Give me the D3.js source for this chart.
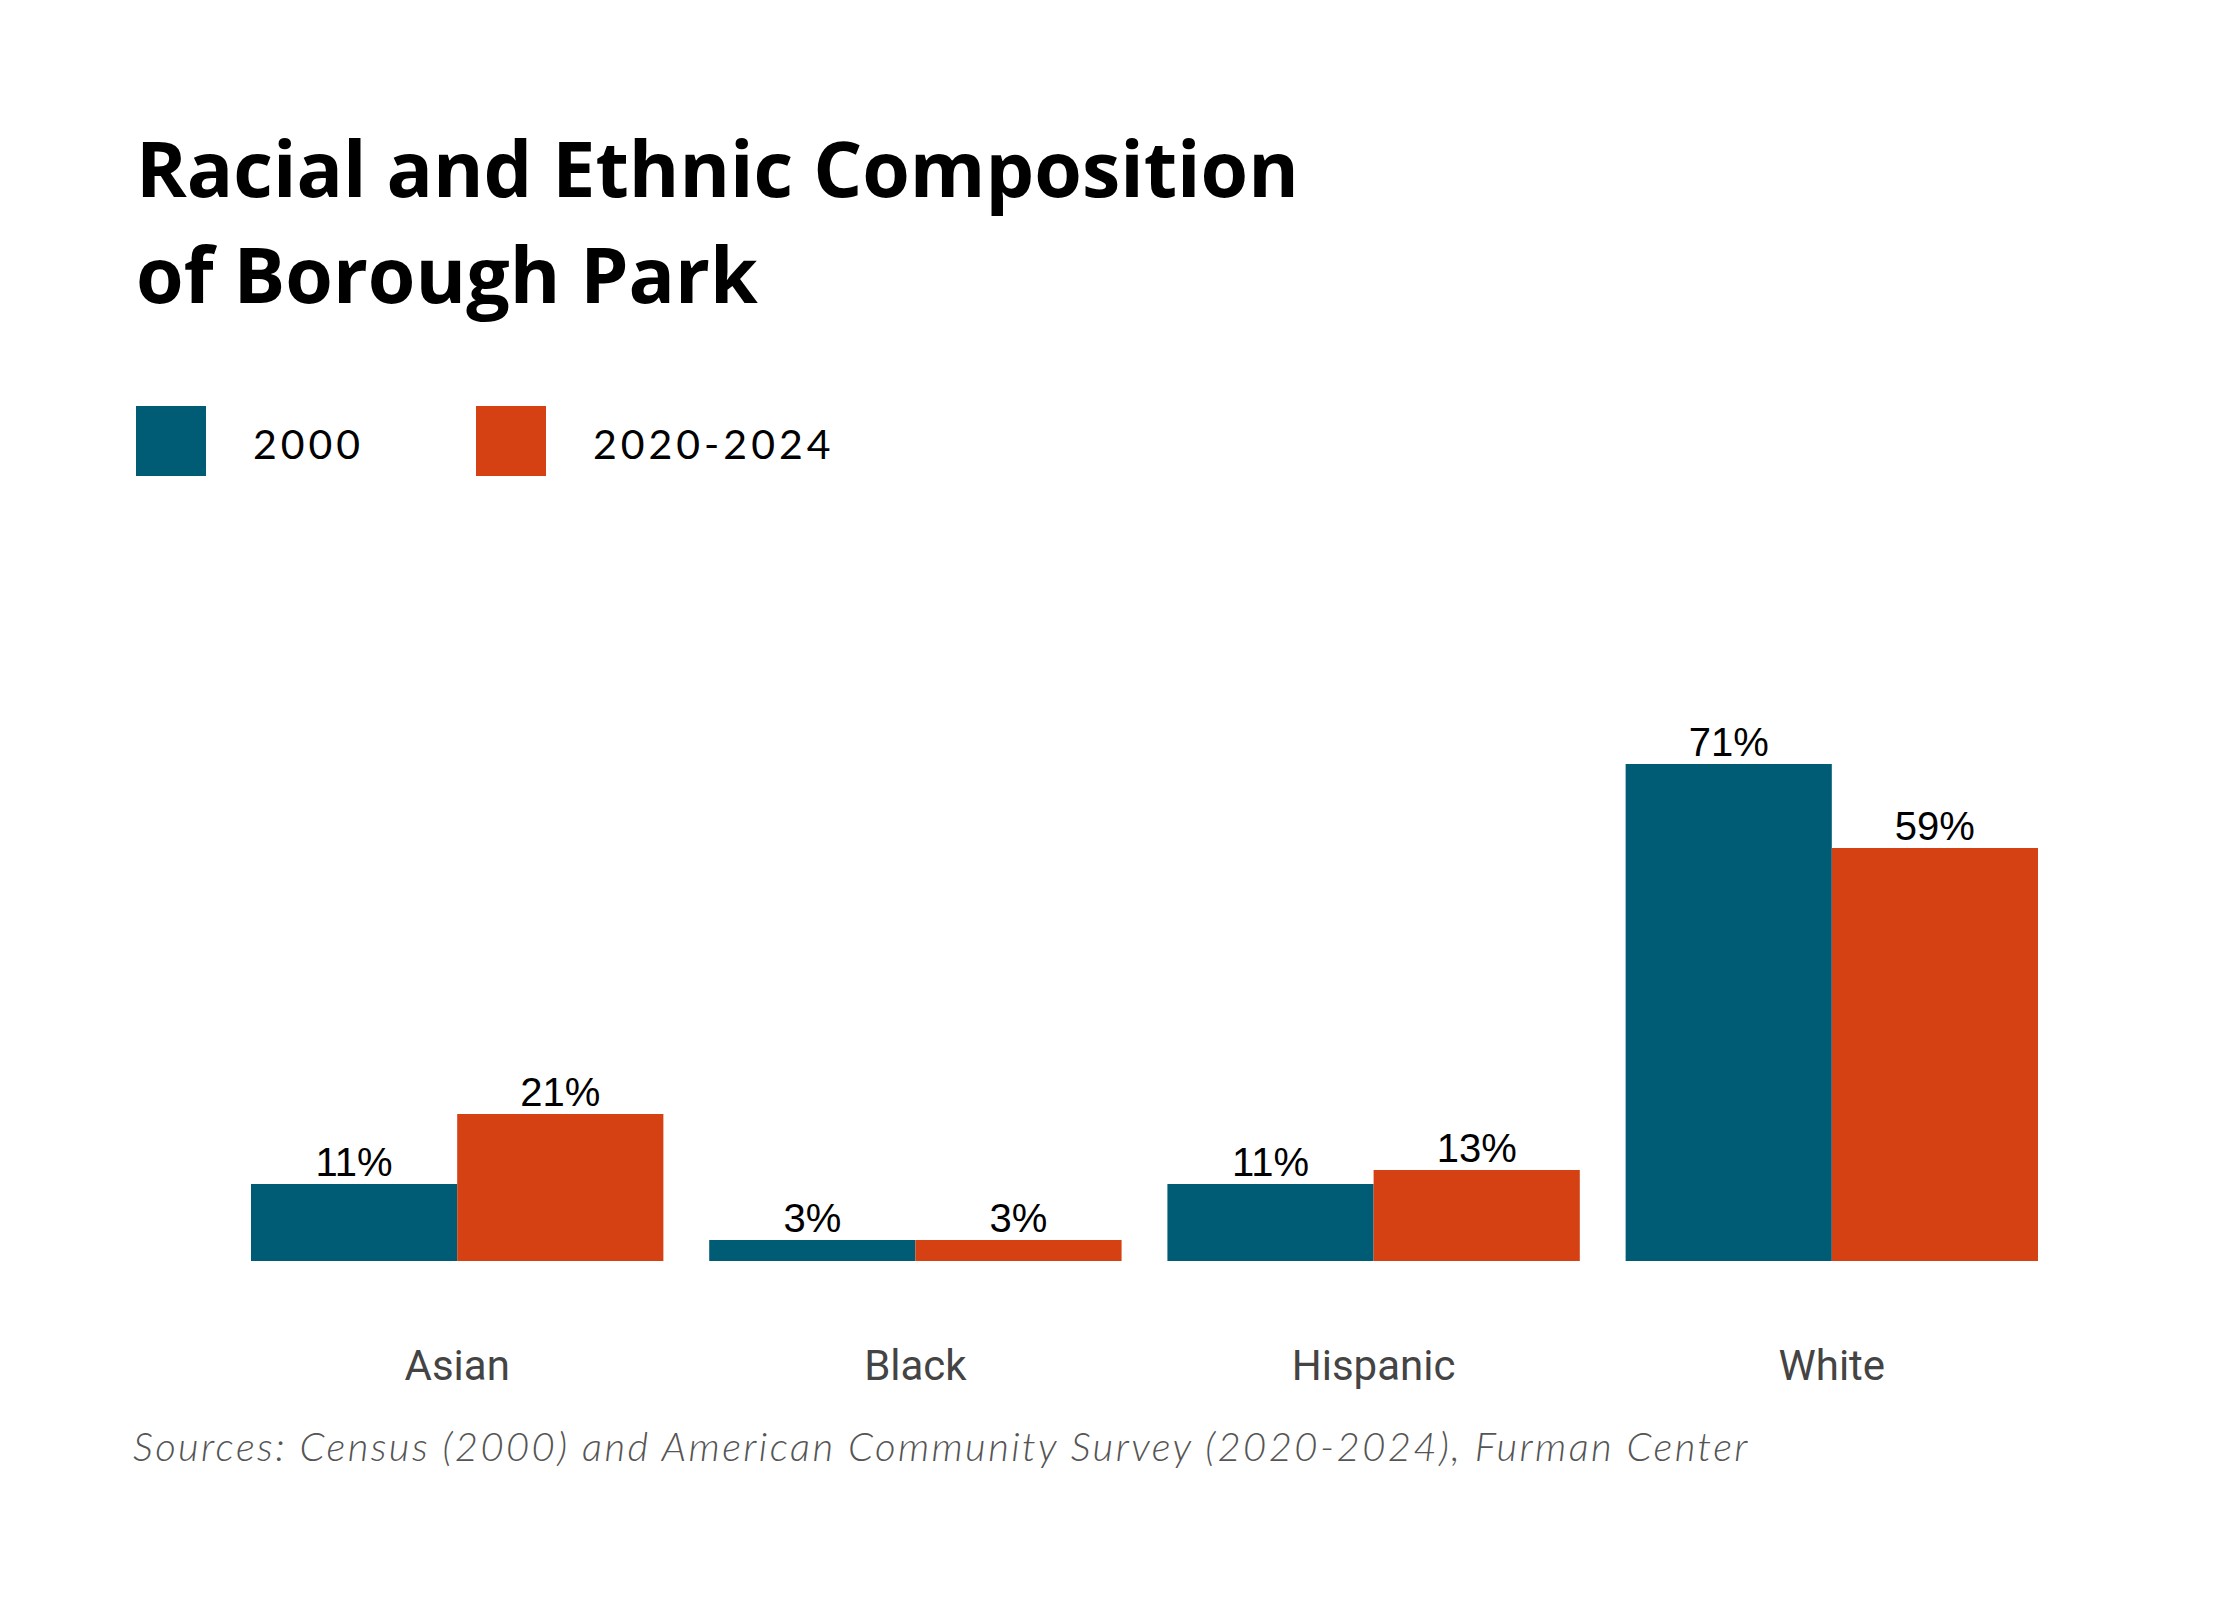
<!DOCTYPE html>
<html>
<head>
<meta charset="utf-8">
<script src="https://cdn.jsdelivr.net/npm/d3@7"></script>
<style>
  body { margin: 0; background: #fff; }
</style>
</head>
<body>
<div id="chart"></div>
<script>
// Dados
let categories = ['Asian', 'Black', 'Hispanic', 'White'];
let series = ['2000', '2020-2024'];
let values_2000 = [11, 3, 11, 71];
let values_2020 = [21, 3, 13, 59];
let colors = ['#005b75', '#d64114'];

let width = 2240;
let height = 1600;

let svg = d3.select('#chart')
    .append('svg')
    .attr('width', width)
    .attr('height', height);

// Titulo
let title = svg.append('text')
    .attr('x', 136)
    .attr('y', 197)
    .attr('font-family', 'Open Sans, sans-serif')
    .attr('font-weight', 700)
    .attr('font-size', 77)
    .attr('fill', '#000');
title.append('tspan').attr('x', 136).text('Racial and Ethnic Composition');
title.append('tspan').attr('x', 136).attr('y', 303).text('of Borough Park');

// Legenda
let legend_x = [136, 476];
let legend = svg.append('g').selectAll('g')
    .data(series)
    .enter()
    .append('g')
    .attr('transform', (d, i) => 'translate(' + legend_x[i] + ',406)');
legend.append('rect')
    .attr('width', 70)
    .attr('height', 70)
    .attr('fill', (d, i) => colors[i]);
legend.append('text')
    .attr('x', 117)
    .attr('y', 53)
    .attr('font-family', 'Lato, sans-serif')
    .attr('font-size', 41)
    .attr('letter-spacing', 4)
    .attr('fill', '#000')
    .text(d => d);

// Escalas
let baseline = 1261;
let x0 = d3.scaleBand()
    .domain(categories)
    .range([251, 2038])
    .paddingInner(0.1);

let x1 = d3.scaleBand()
    .domain(series)
    .range([0, x0.bandwidth()]);

let y = d3.scaleLinear()
    .domain([0, 71])
    .range([baseline, 764]);

let rows = categories.map((c, i) => ({
    cat: c,
    vals: [values_2000[i], values_2020[i]]
}));

let groups = svg.append('g').selectAll('g')
    .data(rows)
    .enter()
    .append('g')
    .attr('transform', d => 'translate(' + x0(d.cat) + ',0)');

groups.selectAll('rect')
    .data(d => d.vals.map((v, i) => ({ s: series[i], v: v, i: i })))
    .enter()
    .append('rect')
    .attr('x', d => x1(d.s))
    .attr('y', d => y(d.v))
    .attr('width', x1.bandwidth())
    .attr('height', d => baseline - y(d.v))
    .attr('fill', d => colors[d.i]);

groups.selectAll('text')
    .data(d => d.vals.map((v, i) => ({ s: series[i], v: v })))
    .enter()
    .append('text')
    .attr('x', d => x1(d.s) + x1.bandwidth() / 2)
    .attr('y', d => y(d.v) - 8)
    .attr('text-anchor', 'middle')
    .attr('font-family', 'Liberation Sans, Arial, sans-serif')
    .attr('font-size', 40)
    .attr('fill', '#000')
    .text(d => d.v + '%');

// Eixo x
let x_axis = d3.axisBottom(x0).tickSize(0).tickPadding(0);
let ax = svg.append('g')
    .attr('transform', 'translate(0,' + baseline + ')')
    .call(x_axis);
ax.select('.domain').remove();
ax.selectAll('text')
    .attr('dy', 0)
    .attr('y', 119)
    .attr('font-family', 'Roboto, sans-serif')
    .attr('font-size', 42)
    .attr('fill', '#444');

// Fonte
svg.append('text')
    .attr('x', 133)
    .attr('y', 1461)
    .attr('font-family', 'Lato, sans-serif')
    .attr('font-style', 'italic')
    .attr('font-weight', 300)
    .attr('font-size', 40)
    .attr('letter-spacing', 2.4)
    .attr('fill', '#555')
    .text('Sources: Census (2000) and American Community Survey (2020-2024), Furman Center');
</script>
</body>
</html>
